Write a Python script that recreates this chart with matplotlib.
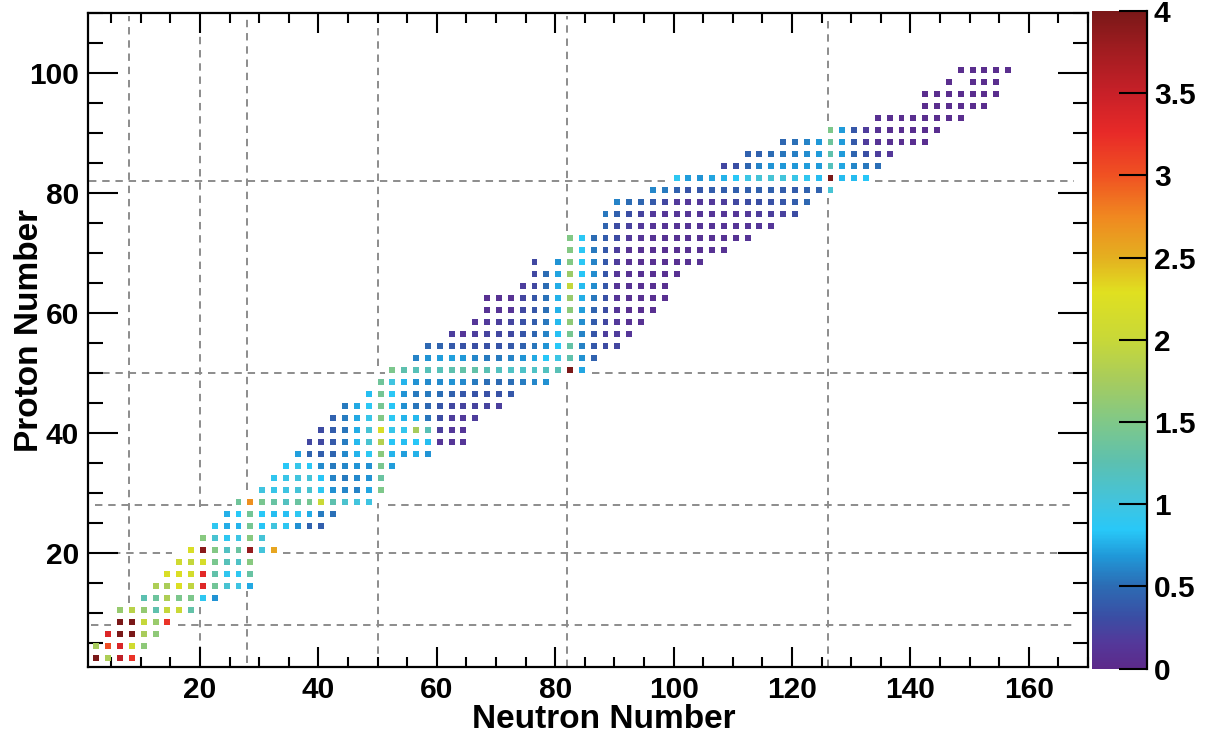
import numpy as np
import matplotlib
matplotlib.use("Agg")
import matplotlib.pyplot as plt
from matplotlib.colors import LinearSegmentedColormap, Normalize
from matplotlib.patches import Rectangle
from matplotlib.collections import PatchCollection
from matplotlib.ticker import MultipleLocator, FixedLocator

plt.rcParams['font.family'] = ['Liberation Sans', 'DejaVu Sans']
plt.rcParams['font.weight'] = 'bold'

# ---------------- data: E(2+) in MeV for even-even nuclei ----------------
proton_numbers = [2, 4, 6, 8, 10, 12, 14, 16, 18, 20, 22, 24, 26, 28, 30, 32, 34,
                  36, 38, 40, 42, 44, 46, 48, 50, 52, 54, 56, 58, 60, 62, 64, 66,
                  68, 70, 72, 74, 76, 78, 80, 82, 84, 86, 88, 90, 92, 94, 96, 98, 100]
first_neutron = [2, 2, 4, 6, 6, 10, 12, 14, 16, 18, 20, 22, 24, 26, 30, 32, 34,
                 36, 38, 40, 42, 44, 48, 50, 52, 56, 58, 62, 66, 68, 68, 74, 76,
                 76, 82, 82, 88, 88, 90, 96, 100, 108, 112, 118, 126, 134, 142, 142, 146, 148]
nan = float('nan')
e2_rows = [
    [4.0, 1.8, 3.57, 3.2],
    [1.75, 3.03, 3.37, 2.1, 1.59],
    [3.35, 4.0, 4.0, 1.77, 1.6],
    [4.0, 4.0, 1.98, 1.67, 3.2],
    [1.65, 1.89, 1.63, 1.27, 1.98, 2.02, 1.30],
    [1.25, 1.37, 1.81, 1.47, 1.48, 0.89, 0.66],
    [1.80, 1.78, 2.24, 1.94, 3.33, 1.41, 1.08, 0.99, 0.74],
    [2.21, 2.23, 2.13, 3.29, 1.29, 0.90, 0.89, 1.33],
    [2.09, 1.97, 2.17, 1.46, 1.21, 1.14, 1.55],
    [2.21, 3.90, 1.52, 1.16, 1.35, 3.83, 1.03, 2.56],
    [1.55, 1.08, 0.89, 0.98, 1.55, 1.05],
    [0.89, 0.75, 0.78, 1.43, 0.83, 1.01, 0.88, 0.65, 0.45, 0.42],
    [0.76, 0.85, 1.41, 0.85, 0.81, 0.82, 0.88, 0.75, 0.57, 0.52],
    [1.39, 2.70, 1.45, 1.33, 1.17, 1.35, 1.43, 2.03, 1.26, 1.10, 1.02, 0.99],
    [1.00, 0.95, 0.99, 1.04, 1.08, 0.88, 0.65, 0.61, 0.60, 0.73, 1.49],
    [0.90, 0.96, 1.02, 1.04, 0.83, 0.60, 0.56, 0.62, 0.66, 1.35],
    [0.85, 0.94, 0.86, 0.63, 0.56, 0.61, 0.67, 0.65, 1.45, 0.70],
    [0.71, 0.46, 0.42, 0.46, 0.62, 0.78, 0.88, 1.56, 0.78, 0.71, 0.77, 0.67],
    [0.26, 0.28, 0.39, 0.57, 0.79, 1.08, 1.84, 0.83, 0.81, 0.84, 0.81, 0.14, 0.13, 0.13],
    [0.29, 0.41, 0.54, 0.75, 1.06, 2.19, 0.93, 0.92, 1.75, 1.22, 0.21, 0.15, 0.14],
    [0.44, 0.57, 0.74, 0.95, 1.51, 0.87, 0.78, 0.79, 0.54, 0.30, 0.19, 0.17, 0.19],
    [0.56, 0.74, 0.87, 1.43, 0.83, 0.65, 0.54, 0.48, 0.36, 0.27, 0.24, 0.24, 0.24, 0.21],
    [0.81, 1.42, 0.86, 0.67, 0.56, 0.56, 0.51, 0.43, 0.37, 0.35, 0.33, 0.34, 0.38],
    [1.39, 1.00, 0.78, 0.66, 0.63, 0.63, 0.66, 0.62, 0.56, 0.51, 0.49, 0.51, 0.57, 0.61, 0.65],
    [1.47, 1.26, 1.21, 1.21, 1.21, 1.26, 1.30, 1.29, 1.23, 1.17, 1.14, 1.13, 1.14, 1.17, 1.22, 4.0, 0.73],
    [0.60, 0.66, 0.70, 0.71, 0.68, 0.61, 0.56, 0.56, 0.60, 0.67, 0.74, 0.84, 0.97, 1.28, 0.65, 0.44],
    [0.48, 0.45, 0.39, 0.34, 0.32, 0.33, 0.35, 0.39, 0.44, 0.54, 0.67, 0.85, 1.31, 0.59, 0.38, 0.29, 0.25],
    [0.20, 0.14, 0.20, 0.23, 0.26, 0.28, 0.36, 0.46, 0.60, 0.82, 1.44, 0.60, 0.36, 0.20, 0.18, 0.14],
    [0.14, 0.17, 0.21, 0.25, 0.33, 0.41, 0.55, 0.79, 1.60, 0.64, 0.40, 0.26, 0.16, 0.10, 0.09],
    [0.10, 0.11, 0.12, 0.28, 0.37, 0.52, 0.77, 1.58, 0.70, 0.45, 0.30, 0.13, 0.07, 0.07, 0.07],
    [0.08, 0.09, 0.10, 0.25, 0.36, 0.53, 0.77, 1.66, 0.75, 0.55, 0.33, 0.12, 0.08, 0.08, 0.07, 0.07],
    [0.20, 0.27, 0.50, 0.75, 1.97, 0.80, 0.64, 0.38, 0.12, 0.09, 0.08, 0.08, 0.07],
    [0.27, 0.50, 0.72, 1.68, 0.83, 0.64, 0.36, 0.14, 0.10, 0.09, 0.08, 0.08, 0.08],
    [0.27, nan, 0.66, 1.52, 0.86, 0.60, 0.38, 0.19, 0.10, 0.08, 0.08, 0.08, 0.08, 0.09, 0.09],
    [1.53, 0.86, 0.56, 0.38, 0.20, 0.10, 0.09, 0.08, 0.08, 0.08, 0.08, 0.08, 0.09, 0.10],
    [1.51, 0.86, 0.50, 0.40, 0.29, 0.16, 0.12, 0.10, 0.09, 0.09, 0.09, 0.09, 0.09, 0.10, 0.10, 0.11],
    [0.45, 0.30, 0.22, 0.16, 0.12, 0.11, 0.11, 0.11, 0.11, 0.11, 0.11, 0.12, 0.12, 0.13, 0.14],
    [0.55, 0.43, 0.32, 0.24, 0.16, 0.14, 0.13, 0.13, 0.13, 0.12, 0.13, 0.14, 0.16, 0.19, 0.21, 0.22, 0.30],
    [0.60, 0.50, 0.46, 0.39, 0.26, 0.17, 0.15, 0.15, 0.16, 0.19, 0.27, 0.30, 0.32, 0.33, 0.36, 0.41, 0.47],
    [0.61, 0.56, 0.43, 0.35, 0.37, 0.41, 0.41, 0.42, 0.42, 0.43, 0.43, 0.41, 0.40, 0.44, 0.44, 1.07],
    [0.89, 0.70, 0.66, 0.72, 0.77, 0.85, 0.97, 1.05, 1.06, 1.03, 0.96, 0.90, 0.80, 4.0, 0.80, 0.80, 0.84],
    [0.26, 0.32, 0.46, 0.60, 0.67, 0.68, 0.68, 0.70, 0.69, 1.18, 0.73, 0.61, 0.55, 0.51],
    [0.43, 0.43, 0.50, 0.54, 0.58, 0.64, 0.69, 1.27, 0.69, 0.46, 0.32, 0.20, 0.15],
    [0.47, 0.52, 0.60, 0.68, 1.38, 0.69, 0.39, 0.18, 0.11, 0.08, 0.07, 0.06, 0.06],
    [1.48, 0.69, 0.37, 0.18, 0.10, 0.07, 0.06, 0.05, 0.05, 0.05],
    [0.08, 0.06, 0.05, 0.05, 0.045, 0.044, 0.045, 0.045],
    [0.044, 0.044, 0.046, 0.044, 0.042, 0.042],
    [0.040, 0.043, 0.043, 0.044, 0.043, 0.042, 0.040],
    [0.040, nan, 0.042, 0.041, 0.043],
    [0.045, 0.044, 0.045, 0.045, 0.045],
]

magic_numbers = [8, 20, 28, 50, 82, 126]
x_ticks = [20, 40, 60, 80, 100, 120, 140, 160]
y_ticks = [20, 40, 60, 80, 100]
cbar_ticks = [0, 0.5, 1, 1.5, 2, 2.5, 3, 3.5, 4]

# dashed guide-line pieces (decoration), in axis units
h_segments = {8: [(1.6, 5.0), (16.3, 167.7)],
              20: [(5.3, 15.3), (34.0, 167.7)],
              28: [(2.3, 25.4), (51.7, 167.7)],
              50: [(1.2, 51.3), (86.3, 167.7)],
              82: [(1.2, 99.2), (134.0, 167.7)]}
v_segments = {8: [(11.7, 109.6)],
              20: [(1.0, 11.0), (27.7, 109.6)],
              28: [(1.7, 13.8), (30.5, 109.6)],
              50: [(1.0, 28.3), (51.3, 109.6)],
              82: [(1.0, 49.2), (73.8, 109.6)],
              126: [(1.0, 79.2), (92.0, 109.6)]}

# ---------------- colormap ----------------
anchors = [(0.00, '#5c2a8a'), (0.15, '#54389a'), (0.31, '#3a4ea4'), (0.50, '#2c6cb4'),
           (0.68, '#2098d8'), (0.84, '#28c8f8'), (1.00, '#40c4e0'), (1.25, '#5cc0b0'),
           (1.50, '#80c888'), (1.76, '#a8cc5c'), (2.00, '#c8d838'), (2.29, '#e0e020'),
           (2.50, '#e4b020'), (2.75, '#f08820'), (3.00, '#f05222'), (3.26, '#e82a28'),
           (3.50, '#c82028'), (3.77, '#a01c20'), (4.00, '#7a1818')]
cmap = LinearSegmentedColormap.from_list('e2', [(v / 4.0, c) for v, c in anchors], N=512)
norm = Normalize(vmin=0, vmax=4, clip=True)

# ---------------- figure ----------------
W, H = 1212, 738
fig = plt.figure(figsize=(W / 100, H / 100), dpi=100)
ax = fig.add_axes([87.5 / W, (H - 667.3) / H, 1000.5 / W, 654.0 / H])
cax = fig.add_axes([1092 / W, (H - 668.5) / H, 55 / W, 657.5 / H])

gcol = '#8c8c8c'
for z, segs in h_segments.items():
    for a, b in segs:
        ax.plot([a, b], [z, z], color=gcol, lw=1.4, dashes=(3.8, 3.0), zorder=1)
for n, segs in v_segments.items():
    for a, b in segs:
        ax.plot([n, n], [a, b], color=gcol, lw=1.4, dashes=(3.8, 3.0), zorder=1)

patches, vals = [], []
for z, n0, row in zip(proton_numbers, first_neutron, e2_rows):
    for i, v in enumerate(row):
        if np.isnan(v):
            continue
        patches.append(Rectangle((n0 + 2 * i, z), 1.0, 1.0))
        vals.append(v)
pc = PatchCollection(patches, cmap=cmap, norm=norm, edgecolor='none',
                     linewidth=0, antialiased=False, zorder=2)
pc.set_array(np.array(vals))
ax.add_collection(pc)

ax.set_xlim(1, 170)
ax.set_ylim(1, 110)
ax.xaxis.set_major_locator(FixedLocator(x_ticks))
ax.yaxis.set_major_locator(FixedLocator(y_ticks))
ax.xaxis.set_minor_locator(MultipleLocator(5))
ax.yaxis.set_minor_locator(MultipleLocator(5))
ax.tick_params(which='both', direction='in', top=True, right=True, width=1.5,
               labelsize=21.5)
ax.tick_params(axis='x', which='major', length=14.4, pad=6)
ax.tick_params(axis='x', which='minor', length=7.2)
ax.tick_params(axis='y', which='major', length=21.6, pad=6)
ax.tick_params(axis='y', which='minor', length=10.8)
for s in ax.spines.values():
    s.set_linewidth(1.6)

fig.text(604 / W, 1 - 719 / H, 'Neutron Number', ha='center', va='center',
         fontsize=24, fontweight='bold')
fig.text(29 / W, 1 - 330 / H, 'Proton Number', ha='center', va='center',
         rotation=90, fontsize=24, fontweight='bold')

# colorbar
cb = fig.colorbar(matplotlib.cm.ScalarMappable(norm=norm, cmap=cmap), cax=cax)
cb.outline.set_visible(False)
cb.set_ticks(cbar_ticks)
cb.set_ticklabels(['%g' % t for t in cbar_ticks])
cax.tick_params(direction='in', length=20, width=1.5, labelsize=21.5, pad=5, right=True, left=False)
cax.minorticks_off()
cax.plot([1, 1], [0, 1], transform=cax.transAxes, color='k', lw=1.6, clip_on=False)

fig.savefig('out.png', dpi=100)
